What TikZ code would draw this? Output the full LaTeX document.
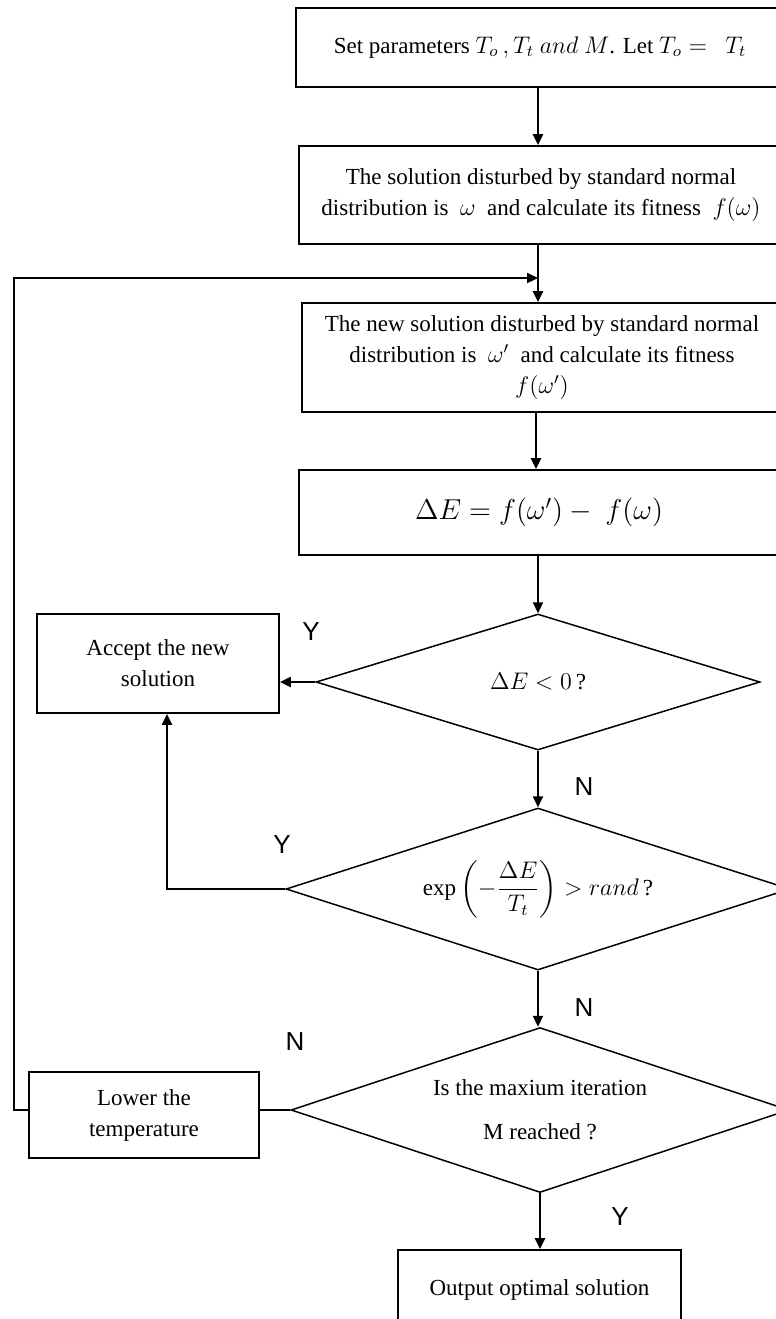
\documentclass[tikz,border=0pt]{standalone}
\usepackage{amsmath}
\usepackage{fontspec}
\setmainfont{Liberation Serif}
\newfontfamily\labelfont{Liberation Sans}
\usepackage{tikz}
\usetikzlibrary{positioning}
\usetikzlibrary{arrows.meta}
\usetikzlibrary{shapes.geometric}

\begin{document}
\begin{tikzpicture}[x=0.5pt,y=-0.5pt]
        \tikzstyle{stepbox}=[draw,line width=0.9pt,align=center,inner sep=2pt,
            font=\fontsize{11.5}{15.5}\selectfont]
        \tikzstyle{decision}=[draw,diamond,aspect=3,line width=0.75pt,align=center,
            inner sep=0pt,font=\fontsize{11.5}{15.5}\selectfont]
        \tikzstyle{flow}=[-{Triangle[length=5.5pt,width=5pt]},line width=1.1pt]
        \tikzstyle{yn}=[font=\labelfont\fontsize{13}{13}\selectfont]
            \useasboundingbox (0,0) rectangle (776,1319);

            \node[stepbox,minimum width=244pt,minimum height=39.5pt] (init) at (540,47.5)
            {Set parameters $T_o\,,T_t\ and\ M$. Let $T_o =\ \ T_t$};
            \node[stepbox,minimum width=242pt,minimum height=49pt] (sol) at (541,195)
            {The solution disturbed by standard normal\\
             distribution is\ \ $\omega$\ \ and calculate its fitness\ \ $f(\omega)$};
            \node[stepbox,minimum width=240pt,minimum height=54.5pt] (newsol) at (542,357.5)
            {The new solution disturbed by standard normal\\
             distribution is\ \ $\omega'$\ \ and calculate its fitness\\ $f(\omega')$};
            \node[stepbox,minimum width=240pt,minimum height=42.5pt,
                font=\fontsize{14.5}{17}\selectfont] (dE) at (539,512.5)
            {$\Delta E = f(\omega') -\ f(\omega)$};

            \node[decision,minimum width=222pt,minimum height=68pt] (neg) at (538,682)
            {$\Delta E < 0\,$?};
            \node[decision,minimum width=252pt,minimum height=81pt] (metro) at (538,889)
            {$\exp\left(-\dfrac{\Delta E}{T_t}\right) > rand\,$?};
            \node[decision,minimum width=249pt,minimum height=82.5pt,
                font=\fontsize{11.5}{22}\selectfont] (iter) at (540,1110)
            {Is the maxium iteration\\ M reached ?};

            \node[stepbox,minimum width=121pt,minimum height=49.5pt] (accept) at (158,663.5)
            {Accept the new\\ solution};
            \node[stepbox,minimum width=115pt,minimum height=43pt] (lower) at (144,1115)
            {Lower the\\ temperature};
            \node[stepbox,minimum width=141.5pt,minimum height=40pt] (out) at (539.5,1290)
            {Output optimal solution};

            % Y / N labels
            \node[yn] (y1) at (311,632) {Y};
            \node[yn] (n1) at (584,787) {N};
            \node[yn] (y2) at (282,845) {Y};
            \node[yn] (n2) at (584,1008) {N};
            \node[yn] (n3) at (295,1042) {N};
            \node[yn] (y3) at (620,1217) {Y};

            \coordinate (join) at (538,278);

            \draw[flow] (init.south -| 538,0) -- (sol.north -| 538,0);
            \draw[flow] (sol.south -| 538,0) -- (newsol.north -| 538,0);
            \draw[flow] (newsol.south -| 536,0) -- (dE.north -| 536,0);
            \draw[flow] (dE.south -| neg.north) -- (neg.north);
            \draw[flow] (neg.south) -- (metro.north);
            \draw[flow] (metro.south) -- (iter.north -| metro.south);
            \draw[flow] (iter.south) -- (out.north -| iter.south);

            \draw[flow] (neg.west) -- (neg.west -| accept.east);
            \draw[flow] (metro.west) -| ([xshift=4.5pt]accept.south);

            \draw[line width=1.1pt] (iter.west) -- (iter.west -| lower.east);
            \draw[flow] (iter.west -| lower.west) -- (14,1110) |- (join);
        \end{tikzpicture}
\end{document}
